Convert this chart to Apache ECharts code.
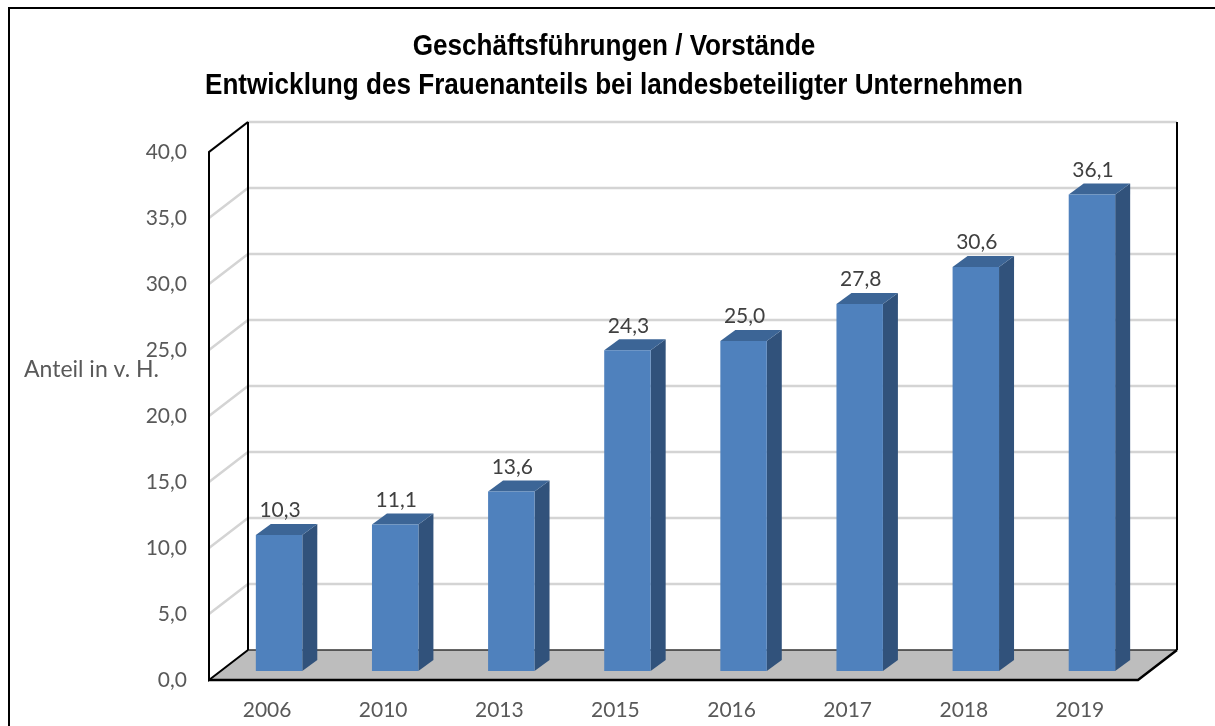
<!DOCTYPE html>
<html>
<head>
<meta charset="utf-8">
<script src="https://cdn.jsdelivr.net/npm/echarts@6/dist/echarts.min.js"></script>
<style>
  html, body { margin: 0; padding: 0; background: #fff; }
  #chart { width: 1215px; height: 726px; }
</style>
</head>
<body>
<div id="chart"></div>
<script>
// data
var categories = ['2006', '2010', '2013', '2015', '2016', '2017', '2018', '2019'];
var values = [10.3, 11.1, 13.6, 24.3, 25.0, 27.8, 30.6, 36.1];
var yTicks = [0, 5, 10, 15, 20, 25, 30, 35, 40];

// 3d look (pixels)
var WALL = [39, -30];     // depth of the box
var BAR_OFF = [12, -9];   // bars stand a bit behind the front plane
var BAR_D = [15, -11];    // depth of one bar

var LABEL_FONT = 'Lato, "Open Sans", sans-serif';
var TITLE_FONT = 'bold 29px "Liberation Sans", Arial, sans-serif';

function fmt(v) {
    return Number(v).toFixed(1).replace('.', ',');
}

var chart = echarts.init(document.getElementById('chart'));

function renderWalls(params, api) {
    var cs = params.coordSys;
    var x0 = cs.x, x1 = cs.x + cs.width;
    var yb = api.coord([0, 0])[1];
    var yt = api.coord([0, yTicks[yTicks.length - 1]])[1];
    var dx = WALL[0], dy = WALL[1];
    var kids = [];
    // floor
    kids.push({
        type: 'polygon',
        shape: { points: [[x0, yb], [x1, yb], [x1 + dx, yb + dy], [x0 + dx, yb + dy]] },
        style: { fill: '#bdbdbd', stroke: null }
    });
    // grid lines on side + back wall
    yTicks.forEach(function (t) {
        if (t === 0) return;
        var y = api.coord([0, t])[1];
        kids.push({
            type: 'polyline',
            shape: { points: [[x0, y], [x0 + dx, y + dy], [x1 + dx, y + dy]] },
            style: { stroke: '#d4d4d4', lineWidth: 2.5, fill: null }
        });
    });
    var edge = { stroke: '#000', lineWidth: 2, fill: null };
    // back edges
    kids.push({ type: 'polyline', shape: { points: [[x0 + dx, yb + dy], [x1 + dx, yb + dy]] }, style: { stroke: '#333', lineWidth: 1.5, fill: null } });
    kids.push({ type: 'polyline', shape: { points: [[x0 + dx, yt + dy], [x0 + dx, yb + dy]] }, style: edge });
    kids.push({ type: 'polyline', shape: { points: [[x1 + dx, yt + dy], [x1 + dx, yb + dy]] }, style: edge });
    // side wall + floor outline
    kids.push({ type: 'polyline', shape: { points: [[x0 + dx, yt + dy], [x0, yt], [x0, yb], [x0 + dx, yb + dy]] }, style: edge });
    kids.push({ type: 'polyline', shape: { points: [[x0, yb], [x1, yb], [x1 + dx, yb + dy]] }, style: { stroke: '#000', lineWidth: 2.5, fill: null } });
    return { type: 'group', children: kids };
}

function renderBar(params, api) {
    var idx = api.value(0), v = api.value(1);
    var top = api.coord([idx, v]);
    var base = api.coord([idx, 0]);
    var band = api.size([1, 0])[0];
    var w = band * 0.4;
    var x0 = top[0] - w / 2 + BAR_OFF[0], x1 = x0 + w;
    var yT = top[1] + BAR_OFF[1], yB = base[1] + BAR_OFF[1];
    var dx = BAR_D[0], dy = BAR_D[1];
    return {
        type: 'group',
        children: [
            {
                type: 'polygon',
                shape: { points: [[x1, yT], [x1 + dx, yT + dy], [x1 + dx, yB + dy], [x1, yB]] },
                style: { fill: '#31527b' }
            },
            {
                type: 'polygon',
                shape: { points: [[x0, yT], [x1, yT], [x1 + dx, yT + dy], [x0 + dx, yT + dy]] },
                style: { fill: '#3c6596' }
            },
            {
                type: 'rect',
                shape: { x: x0, y: yT, width: w, height: yB - yT },
                style: { fill: '#4f81bd' }
            },
            {
                type: 'text',
                style: {
                    text: fmt(v), x: (x0 + x1) / 2 + 1, y: yT + dy - 3,
                    align: 'center', verticalAlign: 'bottom',
                    font: '21px ' + LABEL_FONT, fill: '#404040'
                }
            }
        ]
    };
}

var option = {
    animation: false,
    grid: { left: 209, right: 77, top: 152, bottom: 46, containLabel: false },
    graphic: [
        {
            type: 'polyline',
            shape: { points: [[9, 726], [9, 8], [1215, 8]] },
            style: { stroke: '#000', lineWidth: 2, fill: null }
        },
        {
            type: 'text', x: 614, y: 47, scaleX: 0.9,
            style: {
                text: 'Geschäftsführungen / Vorstände', align: 'center', verticalAlign: 'middle',
                font: TITLE_FONT, fill: '#000'
            }
        },
        {
            type: 'text', x: 614, y: 86, scaleX: 0.9,
            style: {
                text: 'Entwicklung des Frauenanteils bei landesbeteiligter Unternehmen', align: 'center', verticalAlign: 'middle',
                font: TITLE_FONT, fill: '#000'
            }
        },
        {
            type: 'text', x: 24, y: 370,
            style: {
                text: 'Anteil in v. H.', align: 'left', verticalAlign: 'middle',
                font: '23px ' + LABEL_FONT, fill: '#595959'
            }
        }
    ],
    xAxis: {
        type: 'category',
        data: categories,
        axisLine: { show: false },
        axisTick: { show: false },
        axisLabel: { color: '#595959', fontSize: 21, fontFamily: LABEL_FONT, margin: 20 }
    },
    yAxis: {
        type: 'value',
        min: 0, max: 40, interval: 5,
        axisLine: { show: false },
        axisTick: { show: false },
        splitLine: { show: false },
        axisLabel: { color: '#595959', fontSize: 21, fontFamily: LABEL_FONT, margin: 22, formatter: fmt }
    },
    series: [
        {
            type: 'custom',
            name: 'walls',
            clip: false,
            silent: true,
            z: 1,
            renderItem: renderWalls,
            data: [[0, 0]]
        },
        {
            type: 'custom',
            name: 'Anteil',
            clip: false,
            z: 3,
            renderItem: renderBar,
            data: values.map(function (v, i) { return [i, v]; })
        }
    ]
};

chart.setOption(option);
</script>
</body>
</html>
